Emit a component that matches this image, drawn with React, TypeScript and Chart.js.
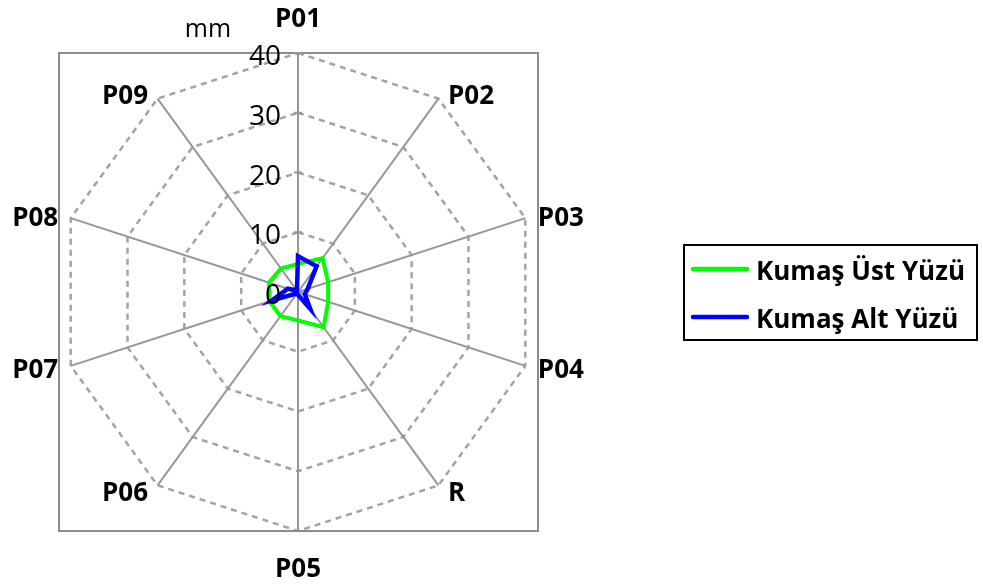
import React, { useEffect, useRef } from "react";
import { Chart, registerables } from "chart.js";

Chart.register(...registerables);

const categories = ["P01", "P02", "P03", "P04", "R", "P05", "P06", "P07", "P08", "P09"];
const ustYuzu = [4.7, 7.0, 5.3, 5.3, 7.3, 4.75, 5.0, 5.0, 5.1, 4.85];
const altYuzu = [6.0, 5.3, 1.7, 1.2, 3.5, 0.5, 0.3, 4.6, 1.8, 0.3];
const tickValues = [0, 10, 20, 30, 40];
const seriesNames = ["Kumaş Üst Yüzü", "Kumaş Alt Yüzü"];
const unitLabel = "mm";

const FONT = '"Open Sans", "Liberation Sans", sans-serif';

const decorPlugin = {
  id: "decor",
  beforeDatasetsDraw(chart: any) {
    const { ctx, chartArea } = chart;
    const scale = chart.scales.r;
    ctx.save();
    ctx.strokeStyle = "#8c8c8c";
    ctx.lineWidth = 2;
    ctx.setLineDash([]);
    ctx.strokeRect(chartArea.left, chartArea.top, chartArea.right - chartArea.left, chartArea.bottom - chartArea.top - 1);
    // small tick marks on the value axis
    ctx.strokeStyle = "#969696";
    tickValues.forEach((v) => {
      if (v === 0) return;
      const y = scale.yCenter - scale.getDistanceFromCenterForValue(v);
      ctx.beginPath();
      ctx.moveTo(scale.xCenter - 4, y);
      ctx.lineTo(scale.xCenter + 4, y);
      ctx.stroke();
    });
    ctx.restore();
  },
  afterDatasetsDraw(chart: any) {
    const { ctx } = chart;
    const scale = chart.scales.r;
    const cx = scale.xCenter;
    const cy = scale.yCenter;
    ctx.save();
    ctx.fillStyle = "#000";
    ctx.font = `28px ${FONT}`;
    ctx.textAlign = "right";
    ctx.textBaseline = "alphabetic";
    tickValues.forEach((v) => {
      const y = cy - scale.getDistanceFromCenterForValue(v);
      ctx.fillText(String(v), cx - 17, y + 12);
    });
    ctx.font = `25px ${FONT}`;
    ctx.textAlign = "center";
    ctx.fillText(unitLabel, 208, 37);
    ctx.font = `bold 26px ${FONT}`;
    const n = chart.data.labels.length;
    chart.data.labels.forEach((lab: string, i: number) => {
      const p = scale.getPointPosition(i, scale.drawingArea);
      const ang = (i / n) * Math.PI * 2;
      const s = Math.sin(ang);
      const c = Math.cos(ang);
      if (Math.abs(s) < 0.1) {
        ctx.textAlign = "center";
        ctx.fillText(lab, p.x, c > 0 ? p.y - 26 : p.y + 46);
      } else {
        const gap = Math.abs(s) > 0.9 ? 12.5 : 9.5;
        ctx.textAlign = s > 0 ? "left" : "right";
        ctx.fillText(lab, p.x + (s > 0 ? gap : -gap), p.y + 9.3 + 1 - 6.5 * c);
      }
    });
    ctx.restore();
  },
  afterDraw(chart: any) {
    const { ctx } = chart;
    ctx.save();
    ctx.strokeStyle = "#000";
    ctx.lineWidth = 2;
    ctx.setLineDash([]);
    ctx.strokeRect(684, 245, 293, 95);
    const rows = [269, 317];
    chart.data.datasets.forEach((ds: any, i: number) => {
      const y = rows[i];
      ctx.strokeStyle = ds.borderColor;
      ctx.lineWidth = 4.5;
      ctx.lineCap = "round";
      ctx.beginPath();
      ctx.moveTo(693, y);
      ctx.lineTo(747, y);
      ctx.stroke();
      ctx.fillStyle = "#000";
      ctx.font = `bold 26px ${FONT}`;
      ctx.textAlign = "left";
      ctx.textBaseline = "alphabetic";
      ctx.fillText(ds.label, 756, y + 10.5);
    });
    ctx.restore();
  },
};

export default function App() {
  const ref = useRef<HTMLCanvasElement | null>(null);
  useEffect(() => {
    if (!ref.current) return;
    const chart = new Chart(ref.current, {
      type: "radar",
      data: {
        labels: categories,
        datasets: [
          {
            label: seriesNames[0],
            data: ustYuzu,
            borderColor: "#00ff00",
            backgroundColor: "rgba(0,0,0,0)",
            borderWidth: 4,
            pointRadius: 0,
            fill: false,
            tension: 0,
            borderJoinStyle: "miter",
            order: 2,
          },
          {
            label: seriesNames[1],
            data: altYuzu,
            borderColor: "#0000ff",
            backgroundColor: "rgba(0,0,0,0)",
            borderWidth: 4.5,
            pointRadius: 0,
            fill: false,
            tension: 0,
            borderJoinStyle: "miter",
            order: 1,
          },
        ],
      },
      options: {
        responsive: false,
        animation: false,
        devicePixelRatio: 1,
        layout: { padding: { left: 59, right: 445, top: 53, bottom: 56 } },
        plugins: { legend: { display: false }, tooltip: { enabled: false } },
        scales: {
          r: {
            min: 0,
            max: 40,
            startAngle: 0,
            ticks: { stepSize: 10, display: false, showLabelBackdrop: false },
            pointLabels: { display: false },
            angleLines: { display: true, color: "#969696", lineWidth: 2 },
            grid: { color: "#a3a3a3", lineWidth: 2.5, circular: false },
            border: { dash: [6, 5] },
          } as any,
        },
      },
      plugins: [decorPlugin],
    } as any);
    return () => chart.destroy();
  }, []);
  return (
    <div style={{ position: "fixed", left: 0, top: 0, width: 983, height: 588, background: "#fff" }}>
      <canvas ref={ref} width={983} height={588} style={{ display: "block" }} />
    </div>
  );
}
